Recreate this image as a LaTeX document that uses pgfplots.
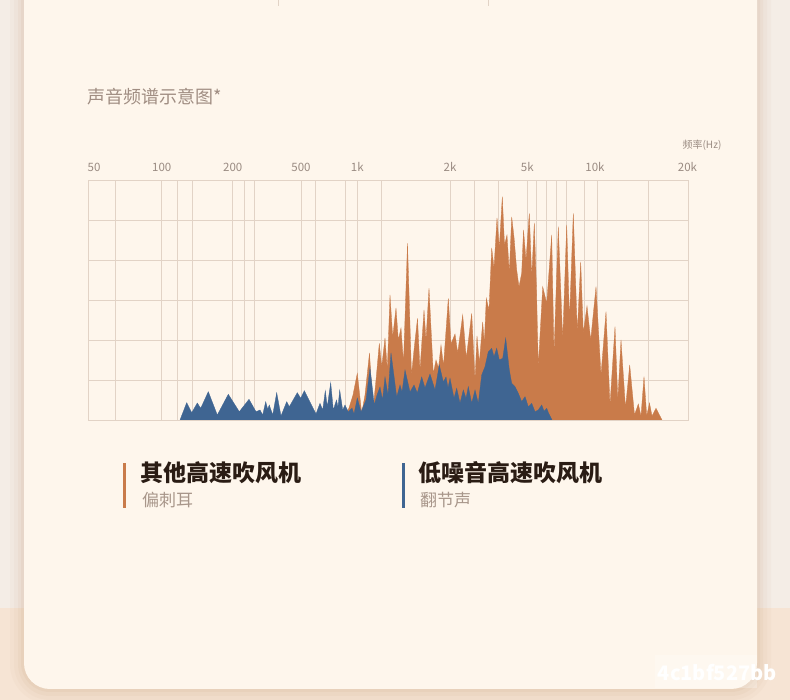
\documentclass[border=0pt]{standalone}
\usepackage{fontspec}
\usepackage{pgfplots}
\pgfplotsset{compat=1.18}
\setmainfont{Noto Sans CJK SC}
\newfontfamily\cjk{Noto Sans CJK SC}
\definecolor{outerTop}{HTML}{F4EDE6}
\definecolor{outerBot}{HTML}{F6E4D4}
\definecolor{card}{HTML}{FEF6EC}
\definecolor{shadowc}{HTML}{C99E7C}
\definecolor{gridc}{HTML}{E2D3C6}
\definecolor{tickc}{HTML}{9A8B82}
\definecolor{titlec}{HTML}{A08D82}
\definecolor{legc}{HTML}{2A1C14}
\definecolor{subc}{HTML}{A8968A}
\definecolor{orangec}{HTML}{C97B4A}
\definecolor{bluec}{HTML}{3F6592}
\begin{document}
\begin{tikzpicture}[x=1bp,y=1bp]
\useasboundingbox (0,0) rectangle (790,700);
\begin{scope}
\clip (0,0) rectangle (790,700);
\fill[outerTop] (0,0) rectangle (790,700);
\fill[outerBot] (0,0) rectangle (790,92);
\fill[shadowc, opacity=0.05, rounded corners=40] (10,-4) rectangle (771,740);
\fill[shadowc, opacity=0.06, rounded corners=36] (14,0) rectangle (767,740);
\fill[shadowc, opacity=0.08, rounded corners=32] (18,4) rectangle (763,740);
\fill[shadowc, opacity=0.10, rounded corners=29] (21,8) rectangle (760,740);
\fill[card, rounded corners=26] (24,11) rectangle (757,740);
\draw[gridc, line width=1bp] (278,700) -- (278,694);
\draw[gridc, line width=1bp] (488,700) -- (488,694);
\end{scope}

\node[anchor=base west, inner sep=0, text=titlec, font=\cjk\fontsize{18bp}{20bp}\selectfont] at (87,596) {声音频谱示意图*};
\node[anchor=base, inner sep=0, text=tickc, font=\cjk\fontsize{10bp}{12bp}\selectfont] at (702,551) {频率(Hz)};

\begin{axis}[
  at={(88,280)}, anchor=south west,
  scale only axis, width=600bp, height=240bp,
  xmin=88, xmax=688, ymin=0, ymax=240,
  axis line style={gridc, line width=0.8bp},
  /pgf/number format/assume math mode=true,
  xtick={94,161.7,232.7,301,357.3,450,527.3,595,687.5},
  xticklabels={50,100,200,500,1k,2k,5k,10k,20k},
  xticklabel pos=upper,
  xticklabel style={anchor=base, yshift=8.5bp, inner sep=0, font=\cjk\fontsize{11.5bp}{13bp}\selectfont, text=tickc},
  major tick length=0, minor tick length=0,
  ytick={0,40,80,120,160,200,240}, yticklabels={},
  ymajorgrids=true,
  grid style={gridc, line width=0.8bp},
  extra x ticks={115,161.7,177,192.3,232.7,244,254.7,301,315.7,345.3,357.3,381.7,450,474,498.3,527.3,536.3,546.7,556,566,584.3,597.7,648.7},
  extra x tick labels={},
  extra x tick style={grid=major, major tick length=0},
  clip=true,
]
% other high-speed hair dryers (orange)
\addplot[fill=orangec, draw=orangec, line width=0.3bp, mark=none] coordinates {
(343,0) (349,12) (353,25) (357.3,46.7) (361.7,6.7) (365,25) (369.5,67) (373,10) (376,40)
(379.3,76.7) (381.7,53) (385,82) (387.3,50) (390,125) (392.7,83) (396,112) (398.3,80)
(401,92) (403.5,57) (407.5,176.7) (411.5,45) (414,70) (417.5,101.7) (420,50) (424,110)
(426,80) (429,131.7) (433.3,46) (436,60) (438.5,52) (441,75) (443.5,54) (448.3,121.7)
(451,76) (455,86) (457.7,67) (462.7,105) (466.3,62) (471.7,106.7) (475,40) (477,84)
(479.3,57) (482.7,98) (484.3,77) (486.3,121.7) (489,110) (491.7,172) (494,152) (497,202)
(499.3,172) (502.3,223.3) (504.5,175) (507,185) (509.3,147) (511.7,203) (514,183)
(516.7,150) (519,133) (521.7,147) (523.5,190) (526,160) (529.3,206.7) (531.7,143)
(534.3,197) (536.5,130) (538.3,53.3) (542.7,133.3) (546.7,116.7) (551.7,185) (554,66.7)
(558.3,193.3) (562.7,80) (566.7,195) (569.5,100) (573.3,206.7) (577.3,88) (580.7,158)
(583.3,87) (587,114) (590.7,80) (596,133.3) (601,45) (606,108.3) (610,15) (615,93.3)
(617.8,20) (621,80) (625.5,12) (629.7,55) (634.5,5) (638.3,16) (641,4) (644,43.3)
(646.7,4) (649.5,17) (652,4) (656,11.7) (662,0)
} \closedcycle;
% low-noise high-speed hair dryer (blue)
\addplot[fill=bluec, draw=bluec, line width=0.3bp, mark=none] coordinates {
(180,0) (186.7,17.3) (191.7,7.3) (197.3,17) (200.7,11.7) (208.3,28.3) (217.3,5) (228.3,25.7)
(239.3,8.3) (249,20.7) (256,8.3) (260,10) (262.7,5) (265.7,18.3) (267.7,10.7) (269.3,15)
(272.7,5) (276.7,27.3) (281,4) (286.7,18.3) (289.3,13.3) (297.3,27.3) (300.7,21.7)
(304.3,29.3) (316,6) (320,16.7) (322.7,10) (325.3,29.3) (327.3,13.3) (330.7,37.3)
(333.3,10) (336.5,20) (338,13) (339.7,30) (342.7,10) (345,15) (348.3,8) (352,12) (354,6)
(357.3,22) (361,8) (366,20) (370,52) (374.3,15) (377,25) (380,33) (382.5,20) (385,43)
(388,25) (391,67) (396.7,23) (400,35) (402,28) (405,50) (410,28) (414,35) (417.3,27)
(421.7,43) (425,32) (430,46) (435,30) (439.3,55) (443.3,38) (446,43) (448,32) (450,41.7)
(454,21.7) (456.7,31.7) (460,16.7) (463.3,30) (466,21.7) (468.3,33.3) (471.7,16.7)
(475,30) (478.3,16.7) (481.7,45) (485,53.3) (488.3,68.3) (491.7,71.7) (494,63.3)
(496.7,71.7) (499.3,60) (502.7,61.7) (505.7,81.7) (509.3,50) (511.7,36.7) (515,33.3)
(518.3,26.7) (521.7,18.3) (525,23.3) (528.3,13.3) (531.7,16.7) (535,8.3) (538.3,10)
(541.7,15) (544,9) (546.7,11.7) (548.5,7) (552,0)
} \closedcycle;
\end{axis}

% legend
\fill[orangec] (123,192) rectangle (126,237);
\node[anchor=base west, inner sep=0, text=legc, font=\cjk\bfseries\fontsize{23bp}{26bp}\selectfont] at (140,218) {其他高速吹风机};
\node[anchor=base west, inner sep=0, text=subc, font=\cjk\fontsize{17bp}{20bp}\selectfont] at (142,193.5) {偏刺耳};
\fill[bluec] (401.5,192) rectangle (404.5,237);
\node[anchor=base west, inner sep=0, text=legc, font=\cjk\bfseries\fontsize{23bp}{26bp}\selectfont] at (418,218) {低噪音高速吹风机};
\node[anchor=base west, inner sep=0, text=subc, font=\cjk\fontsize{17bp}{20bp}\selectfont] at (420,193.5) {翻节声};

% watermark
\fill[white, opacity=0.25] (655,12) rectangle (757,45);
\node[anchor=base east, inner sep=0, text=white, font=\cjk\bfseries\fontsize{20bp}{22bp}\selectfont] at (777,19) {4c1bf527bb};
\end{tikzpicture}
\end{document}
